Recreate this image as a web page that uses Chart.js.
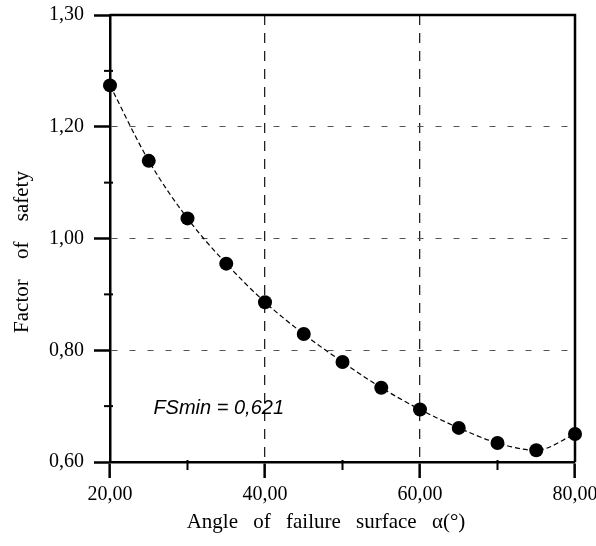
<!DOCTYPE html>
<html>
<head>
<meta charset="utf-8">
<script src="https://cdn.jsdelivr.net/npm/chart.js@4/dist/chart.umd.min.js"></script>
<style>
  html, body { margin: 0; padding: 0; background: #ffffff; }
  #wrap { width: 596px; height: 546px; }
</style>
</head>
<body>
<div id="wrap"><canvas id="c" width="596" height="546"></canvas></div>
<script>
// ---- data ----
const angles = [20, 25, 30, 35, 40, 45, 50, 55, 60, 65, 70, 75, 80];
const factorOfSafety = [1.274, 1.139, 1.036, 0.955, 0.886, 0.829, 0.779, 0.733, 0.694, 0.661, 0.634, 0.621, 0.650];
const xTickLabels = { 20: '20,00', 40: '40,00', 60: '60,00', 80: '80,00' };
// the reference prints "1,30" on its top tick (which sits where 1.40 would be)
const yTickLabels = { '0.6': '0,60', '0.8': '0,80', '1.0': '1,00', '1.2': '1,20', '1.4': '1,30' };
const xTitle = 'Angle of failure surface α(°)';
const yTitle = 'Factor of safety';
const annotationText = 'FSmin = 0,621';
const annotationAt = { x: 25.6, y: 0.696 };

const serif = '"Liberation Serif", "DejaVu Serif", serif';

function isMajorX(v) { return Math.abs(v / 20 - Math.round(v / 20)) < 1e-6; }
function keyY(v) { return (Math.round(v * 10) / 10).toFixed(1); }
function isMajorY(v) { const k = Math.round(v * 10); return k % 2 === 0; }

const decorations = {
  id: 'decorations',
  afterDraw(chart) {
    const ctx = chart.ctx;
    const a = chart.chartArea;
    const xs = chart.scales.x, ys = chart.scales.y;
    ctx.save();
    // top and right frame
    ctx.strokeStyle = '#000';
    ctx.lineWidth = 2.5;
    ctx.beginPath();
    ctx.moveTo(a.left, a.top);
    ctx.lineTo(a.right, a.top);
    ctx.lineTo(a.right, a.bottom);
    ctx.stroke();
    // minor ticks
    ctx.lineWidth = 2;
    xs.ticks.forEach(t => {
      if (!isMajorX(t.value)) {
        const px = xs.getPixelForValue(t.value);
        ctx.beginPath(); ctx.moveTo(px, a.bottom - 2); ctx.lineTo(px, a.bottom + 8); ctx.stroke();
      }
    });
    ys.ticks.forEach(t => {
      if (!isMajorY(t.value)) {
        const py = ys.getPixelForValue(t.value);
        ctx.beginPath(); ctx.moveTo(a.left - 6, py); ctx.lineTo(a.left + 3, py); ctx.stroke();
      }
    });
    // annotation
    ctx.fillStyle = '#000';
    ctx.font = 'italic 20px "Liberation Sans", Arial, sans-serif';
    ctx.textAlign = 'left';
    ctx.textBaseline = 'middle';
    ctx.fillText(annotationText, xs.getPixelForValue(annotationAt.x), ys.getPixelForValue(annotationAt.y));
    // axis titles
    ctx.font = '21px ' + serif;
    if ('wordSpacing' in ctx) ctx.wordSpacing = '10px';
    ctx.textAlign = 'center';
    ctx.fillText(xTitle, 326, 522);
    if ('wordSpacing' in ctx) ctx.wordSpacing = '15px';
    ctx.translate(22, 252);
    ctx.rotate(-Math.PI / 2);
    ctx.fillText(yTitle, 0, 0);
    ctx.restore();
  }
};

new Chart(document.getElementById('c'), {
  type: 'line',
  data: {
    datasets: [{
      data: angles.map((a, i) => ({ x: a, y: factorOfSafety[i] })),
      borderColor: '#000',
      borderWidth: 1.2,
      borderDash: [5, 3],
      cubicInterpolationMode: 'monotone',
      pointRadius: 7,
      pointBackgroundColor: '#000',
      pointBorderColor: '#000',
      pointBorderWidth: 0,
      fill: false,
      clip: false
    }]
  },
  options: {
    responsive: false,
    animation: false,
    devicePixelRatio: 1,
    layout: { padding: { top: 15, right: 21, left: 0, bottom: 0 } },
    plugins: { legend: { display: false }, tooltip: { enabled: false } },
    scales: {
      x: {
        type: 'linear',
        min: 20, max: 80,
        afterFit(s) { s.height = 84; s.paddingLeft = 0; s.paddingRight = 0; },
        ticks: {
          stepSize: 10,
          padding: 5,
          color: '#000',
          font: { family: serif, size: 20 },
          maxRotation: 0,
          autoSkip: false,
          callback: v => xTickLabels[v] || ''
        },
        grid: {
          color: c => (c.tick && (c.tick.value === 40 || c.tick.value === 60)) ? '#222' : 'rgba(0,0,0,0)',
          lineWidth: 1.3,
          drawTicks: true,
          tickLength: 16,
          tickWidth: 2.5,
          tickColor: c => (c.tick && isMajorX(c.tick.value)) ? '#000' : 'rgba(0,0,0,0)'
        },
        border: { display: true, color: '#000', width: 2.5, dash: [10, 8] }
      },
      y: {
        type: 'linear',
        min: 0.6, max: 1.4,
        afterFit(s) { s.width = 110; s.paddingTop = 0; s.paddingBottom = 0; },
        ticks: {
          stepSize: 0.1,
          padding: 10,
          color: '#000',
          font: { family: serif, size: 20 },
          autoSkip: false,
          callback: v => yTickLabels[keyY(v)] || ''
        },
        grid: {
          color: c => {
            if (!c.tick) return 'rgba(0,0,0,0)';
            const k = Math.round(c.tick.value * 10);
            return (k === 8 || k === 10 || k === 12) ? '#555' : 'rgba(0,0,0,0)';
          },
          lineWidth: 1,
          drawTicks: true,
          tickLength: 16,
          tickWidth: 2.5,
          tickColor: c => (c.tick && isMajorY(c.tick.value)) ? '#000' : 'rgba(0,0,0,0)'
        },
        border: { display: true, color: '#000', width: 2.5, dash: [6, 12] }
      }
    }
  },
  plugins: [decorations]
});
</script>
</body>
</html>
